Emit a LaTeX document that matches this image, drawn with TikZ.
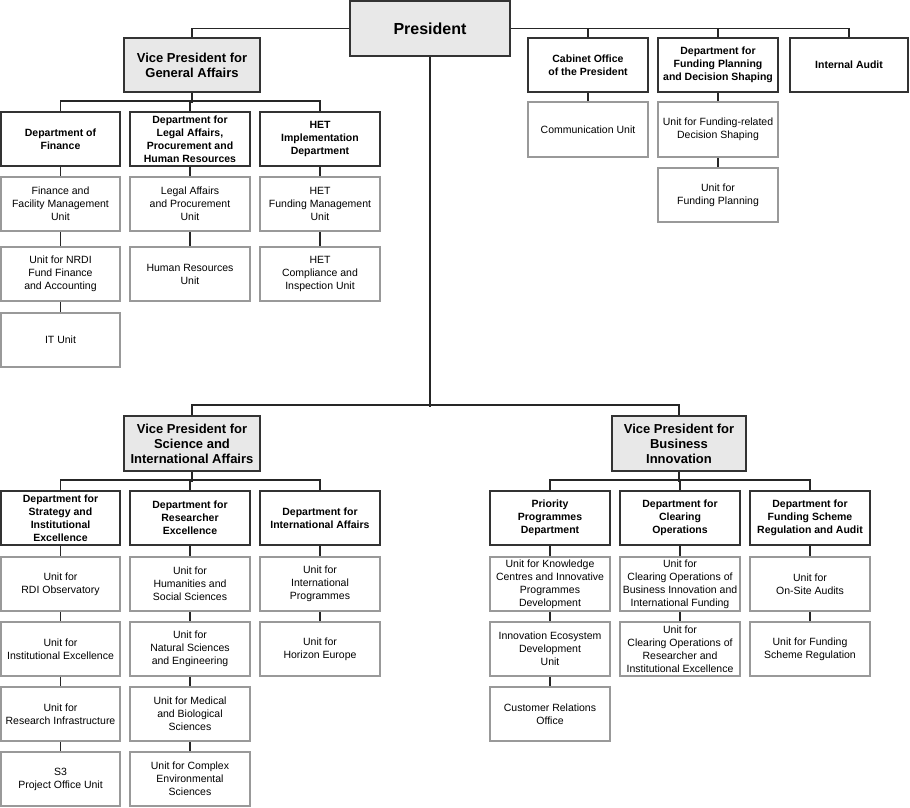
\documentclass[tikz,border=0pt]{standalone}
\usepackage{fontspec}
\setmainfont{Liberation Sans}
\begin{document}
\begin{tikzpicture}[x=1pt,y=-1pt,
 base/.style={draw, line width=1.6pt, align=center, inner sep=0pt, font=\fontsize{10.5}{13}\selectfont},
 dept/.style={base, draw=black!80, fill=white, font=\fontsize{10.5}{13}\selectfont\bfseries},
 unit/.style={base, draw=black!40, fill=white},
 vp/.style={base, draw=black!80, fill=black!9, font=\fontsize{13}{15}\selectfont\bfseries},
 pres/.style={base, draw=black!80, fill=black!9, font=\fontsize{16}{18}\selectfont\bfseries},
 ln/.style={draw=black!85, line width=1.6pt}]
\fill[white] (0,0) rectangle (910,808);
\useasboundingbox (0,0) rectangle (910,808);
\newcommand\obox[7]{\node[#6, minimum width={#4-#2}, minimum height={#5-#3}] (#1) at ({(#2+#4)/2},{(#3+#5)/2}) {#7};}
% top
\obox{pr}{350}{1}{510}{56}{pres}{President}
\obox{vpga}{124}{38}{260}{92}{vp}{Vice President for\\General Affairs}
\obox{cab}{528}{38}{648}{92}{dept}{Cabinet Office\\of the President}
\obox{fpd}{658}{38}{778}{92}{dept}{Department for\\Funding Planning\\and Decision Shaping}
\obox{ia}{790}{38}{908}{92}{dept}{Internal Audit}
\obox{com}{528}{102}{648}{157}{unit}{Communication Unit}
\obox{fu1}{658}{102}{778}{157}{unit}{Unit for Funding-related\\Decision Shaping}
\obox{fu2}{658}{168}{778}{222}{unit}{Unit for\\Funding Planning}
% general affairs
\obox{dfin}{1}{112}{120}{166}{dept}{Department of\\Finance}
\obox{dleg}{130}{112}{250}{166}{dept}{Department for\\Legal Affairs,\\Procurement and\\Human Resources}
\obox{dhet}{260}{112}{380}{166}{dept}{HET\\Implementation\\Department}
\obox{f1}{1}{177}{120}{231}{unit}{Finance and\\Facility Management\\Unit}
\obox{f2}{1}{247}{120}{301}{unit}{Unit for NRDI\\Fund Finance\\and Accounting}
\obox{f3}{1}{313}{120}{367}{unit}{IT Unit}
\obox{l1}{130}{177}{250}{231}{unit}{Legal Affairs\\and Procurement\\Unit}
\obox{l2}{130}{247}{250}{301}{unit}{Human Resources\\Unit}
\obox{h1}{260}{177}{380}{231}{unit}{HET\\Funding Management\\Unit}
\obox{h2}{260}{247}{380}{301}{unit}{HET\\Compliance and\\Inspection Unit}
% science
\obox{vpsi}{124}{416}{260}{471}{vp}{Vice President for\\Science and\\International Affairs}
\obox{vpbi}{612}{416}{746}{471}{vp}{Vice President for\\Business\\Innovation}
\obox{ds1}{1}{491}{120}{545}{dept}{Department for\\Strategy and\\Institutional\\Excellence}
\obox{ds2}{130}{491}{250}{545}{dept}{Department for\\Researcher\\Excellence}
\obox{ds3}{260}{491}{380}{545}{dept}{Department for\\International Affairs}
\obox{a1}{1}{557}{120}{611}{unit}{Unit for\\RDI Observatory}
\obox{a2}{1}{622}{120}{676}{unit}{Unit for\\Institutional Excellence}
\obox{a3}{1}{687}{120}{741}{unit}{Unit for\\Research Infrastructure}
\obox{a4}{1}{752}{120}{806}{unit}{S3\\Project Office Unit}
\obox{b1}{130}{557}{250}{611}{unit}{Unit for\\Humanities and\\Social Sciences}
\obox{b2}{130}{622}{250}{676}{unit}{Unit for\\Natural Sciences\\and Engineering}
\obox{b3}{130}{687}{250}{741}{unit}{Unit for Medical\\and Biological\\Sciences}
\obox{b4}{130}{752}{250}{806}{unit}{Unit for Complex\\Environmental\\Sciences}
\obox{c1}{260}{557}{380}{611}{unit}{Unit for\\International\\Programmes}
\obox{c2}{260}{622}{380}{676}{unit}{Unit for\\Horizon Europe}
% business
\obox{db1}{490}{491}{610}{545}{dept}{Priority\\Programmes\\Department}
\obox{db2}{620}{491}{740}{545}{dept}{Department for\\Clearing\\Operations}
\obox{db3}{750}{491}{870}{545}{dept}{Department for\\Funding Scheme\\Regulation and Audit}
\obox{p1}{490}{557}{610}{611}{unit}{Unit for Knowledge\\Centres and Innovative\\Programmes\\Development}
\obox{p2}{490}{622}{610}{676}{unit}{Innovation Ecosystem\\Development\\Unit}
\obox{p3}{490}{687}{610}{741}{unit}{Customer Relations\\Office}
\obox{q1}{620}{557}{740}{611}{unit}{Unit for\\Clearing Operations of\\Business Innovation and\\International Funding}
\obox{q2}{620}{622}{740}{676}{unit}{Unit for\\Clearing Operations of\\Researcher and\\Institutional Excellence}
\obox{r1}{750}{557}{870}{611}{unit}{Unit for\\On-Site Audits}
\obox{r2}{750}{622}{870}{676}{unit}{Unit for Funding\\Scheme Regulation}
% connectors
\begin{scope}[ln]
\draw (vpga.north) |- (pr.west);
\draw (pr.east) -| (ia.north);
\draw (cab.north) -- (cab.north |- pr.east);
\draw (fpd.north) -- (fpd.north |- pr.east);
\draw (cab.south) -- (com.north);
\draw (fpd.south) -- (fu1.north); \draw (fu1.south) -- (fu2.north);
\draw (vpga.south) -- ++(0,10);
\draw (dfin.north) -- ++(0,-10) -| (dhet.north);
\draw (dleg.north) -- ++(0,-10);
\draw (dfin.south) -- (f1.north); \draw (f1.south) -- (f2.north); \draw (f2.south) -- (f3.north);
\draw (dleg.south) -- (l1.north); \draw (l1.south) -- (l2.north);
\draw (dhet.south) -- (h1.north); \draw (h1.south) -- (h2.north);
\draw (pr.south) -- ++(0,350) coordinate (bus);
\draw (vpsi.north) -- ++(0,-10) -| (vpbi.north);
\draw (vpsi.south) -- ++(0,10);
\draw (ds1.north) -- ++(0,-10) -| (ds3.north);
\draw (ds2.north) -- ++(0,-10);
\draw (ds1.south) -- (a1.north); \draw (a1.south) -- (a2.north); \draw (a2.south) -- (a3.north); \draw (a3.south) -- (a4.north);
\draw (ds2.south) -- (b1.north); \draw (b1.south) -- (b2.north); \draw (b2.south) -- (b3.north); \draw (b3.south) -- (b4.north);
\draw (ds3.south) -- (c1.north); \draw (c1.south) -- (c2.north);
\draw (vpbi.south) -- ++(0,10);
\draw (db1.north) -- ++(0,-10) -| (db3.north);
\draw (db2.north) -- ++(0,-10);
\draw (db1.south) -- (p1.north); \draw (p1.south) -- (p2.north); \draw (p2.south) -- (p3.north);
\draw (db2.south) -- (q1.north); \draw (q1.south) -- (q2.north);
\draw (db3.south) -- (r1.north); \draw (r1.south) -- (r2.north);
\end{scope}
\end{tikzpicture}
\end{document}
